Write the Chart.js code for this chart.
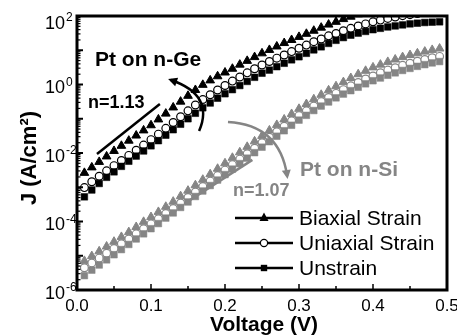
<!DOCTYPE html>
<html>
<head>
<meta charset="utf-8">
<script src="https://cdn.jsdelivr.net/npm/chart.js@4.4.1/dist/chart.umd.min.js"></script>
<style>
  html, body { margin: 0; padding: 0; background: #fff; }
  canvas { display: block; }
</style>
</head>
<body>
<canvas id="chart" width="457" height="335"></canvas>
<script>
// Bias voltage (V)
const voltage = [
  0.01, 0.02, 0.03, 0.04, 0.05, 0.06, 0.07, 0.08, 0.09, 0.10,
  0.11, 0.12, 0.13, 0.14, 0.15, 0.16, 0.17, 0.18, 0.19, 0.20,
  0.21, 0.22, 0.23, 0.24, 0.25, 0.26, 0.27, 0.28, 0.29, 0.30,
  0.31, 0.32, 0.33, 0.34, 0.35, 0.36, 0.37, 0.38, 0.39, 0.40,
  0.41, 0.42, 0.43, 0.44, 0.45, 0.46, 0.47, 0.48, 0.49
];

// log10 of current density J (A/cm2)
const geBiaxial = [
  -2.58, -2.42, -2.26, -2.10, -1.94, -1.79, -1.64, -1.49, -1.34, -1.19,
  -1.02, -0.85, -0.67, -0.50, -0.33, -0.16, -0.01, 0.12, 0.24, 0.35,
  0.46, 0.58, 0.69, 0.80, 0.91, 1.01, 1.11, 1.21, 1.30, 1.39,
  1.48, 1.57, 1.66, 1.75, 1.83, 1.91, 1.98, 2.05, 2.12, 2.18,
  2.24, 2.30, 2.35, 2.40, 2.45, 2.49, 2.53, 2.57, 2.61
];
const geUniaxial = [
  -3.01, -2.84, -2.68, -2.52, -2.37, -2.22, -2.07, -1.92, -1.77, -1.61,
  -1.45, -1.28, -1.11, -0.94, -0.77, -0.60, -0.44, -0.30, -0.16, -0.03,
  0.10, 0.22, 0.34, 0.46, 0.57, 0.67, 0.77, 0.86, 0.96, 1.06,
  1.15, 1.25, 1.33, 1.42, 1.49, 1.57, 1.64, 1.71, 1.77, 1.83,
  1.88, 1.93, 1.97, 2.01, 2.04, 2.07, 2.10, 2.12, 2.14
];
const geUnstrain = [
  -3.28, -3.08, -2.89, -2.71, -2.55, -2.39, -2.24, -2.09, -1.94, -1.79,
  -1.64, -1.48, -1.32, -1.16, -1.00, -0.84, -0.68, -0.54, -0.40, -0.27,
  -0.15, -0.03, 0.09, 0.21, 0.33, 0.42, 0.52, 0.62, 0.72, 0.81,
  0.91, 1.01, 1.10, 1.20, 1.29, 1.37, 1.44, 1.50, 1.55, 1.60,
  1.64, 1.68, 1.71, 1.74, 1.77, 1.79, 1.81, 1.82, 1.83
];
const siBiaxial = [
  -5.15, -5.01, -4.87, -4.73, -4.59, -4.45, -4.31, -4.16, -4.01, -3.87,
  -3.72, -3.57, -3.42, -3.26, -3.10, -2.94, -2.78, -2.62, -2.46, -2.30,
  -2.14, -1.98, -1.82, -1.66, -1.50, -1.34, -1.18, -1.02, -0.86, -0.71,
  -0.57, -0.43, -0.30, -0.17, -0.05, 0.07, 0.19, 0.30, 0.40, 0.50,
  0.58, 0.66, 0.73, 0.80, 0.86, 0.91, 0.96, 1.01, 1.05
];
const siUniaxial = [
  -5.35, -5.21, -5.07, -4.93, -4.79, -4.65, -4.51, -4.36, -4.21, -4.07,
  -3.92, -3.77, -3.62, -3.46, -3.30, -3.14, -2.98, -2.82, -2.66, -2.50,
  -2.34, -2.18, -2.02, -1.86, -1.70, -1.54, -1.38, -1.22, -1.06, -0.91,
  -0.77, -0.63, -0.50, -0.38, -0.26, -0.15, -0.04, 0.06, 0.16, 0.25,
  0.34, 0.42, 0.49, 0.56, 0.62, 0.68, 0.73, 0.78, 0.82
];
const siUnstrain = [
  -5.58, -5.42, -5.27, -5.12, -4.97, -4.82, -4.67, -4.51, -4.36, -4.21,
  -4.06, -3.90, -3.75, -3.59, -3.43, -3.27, -3.11, -2.95, -2.79, -2.63,
  -2.47, -2.31, -2.15, -1.99, -1.83, -1.67, -1.51, -1.35, -1.19, -1.04,
  -0.90, -0.76, -0.63, -0.51, -0.39, -0.28, -0.18, -0.08, 0.02, 0.11,
  0.19, 0.27, 0.34, 0.41, 0.47, 0.53, 0.58, 0.63, 0.67
];

// Axis ticks
const xTicks = [0, 0.1, 0.2, 0.3, 0.4, 0.5];
const xTickLabels = ['0.0', '0.1', '0.2', '0.3', '0.4', '0.5'];
const yTickExponents = [-6, -4, -2, 0, 2];

const legendLabels = ['Biaxial Strain', 'Uniaxial Strain', 'Unstrain'];

// Annotation guides in data units [V, J]
const geSlopeLine = [[0.027, 9.4e-3], [0.112, 0.27]];
const siSlopeLine = [[0.151, 4.0e-4], [0.237, 6.3e-3]];
const geArc = [[0.127, 1.35], [0.186, 0.49], [0.165, 0.044]];   // head at start
const siArc = [[0.204, 0.080], [0.274, 0.066], [0.284, 2.13e-3]]; // head at end

const BLACK = '#000000';
const GRAY = '#858585';
const FONT = "'Liberation Sans', Arial, sans-serif";

function toPoints(logs) {
  return voltage.map((v, i) => ({ x: v, y: Math.pow(10, logs[i]) }));
}

function series(label, logs, style, color, order) {
  const base = { label, data: toPoints(logs), order, clip: { left: 6, right: 6, top: 0, bottom: 6 } };
  if (style === 'triangle') {
    return Object.assign(base, { pointStyle: 'triangle', pointRadius: 5, backgroundColor: color, borderColor: color, borderWidth: 1 });
  }
  if (style === 'circle') {
    return Object.assign(base, { pointStyle: 'circle', pointRadius: 3.9, backgroundColor: '#ffffff', borderColor: color, borderWidth: 1.2 });
  }
  return Object.assign(base, { pointStyle: 'rect', pointRadius: 4.7, backgroundColor: color, borderColor: color, borderWidth: 0.5 });
}

function drawMarker(ctx, style, x, y) {
  ctx.save();
  ctx.fillStyle = BLACK;
  ctx.strokeStyle = BLACK;
  ctx.lineWidth = 1.2;
  ctx.beginPath();
  if (style === 'triangle') {
    ctx.moveTo(x, y - 5.5);
    ctx.lineTo(x + 4.5, y + 3);
    ctx.lineTo(x - 4.5, y + 3);
    ctx.closePath();
    ctx.fill();
  } else if (style === 'circle') {
    ctx.arc(x, y, 3.6, 0, Math.PI * 2);
    ctx.fillStyle = '#ffffff';
    ctx.fill();
    ctx.stroke();
  } else {
    ctx.rect(x - 3.2, y - 3.2, 6.4, 6.4);
    ctx.fill();
  }
  ctx.restore();
}

function arrowHead(ctx, tip, from, color) {
  const ang = Math.atan2(tip.y - from.y, tip.x - from.x);
  const len = 9, half = 4.5;
  const tx = tip.x + Math.cos(ang) * 3, ty = tip.y + Math.sin(ang) * 3;
  const bx = tx - Math.cos(ang) * len, by = ty - Math.sin(ang) * len;
  ctx.fillStyle = color;
  ctx.beginPath();
  ctx.moveTo(tx, ty);
  ctx.lineTo(bx + Math.sin(ang) * half, by - Math.cos(ang) * half);
  ctx.lineTo(bx - Math.sin(ang) * half, by + Math.cos(ang) * half);
  ctx.closePath();
  ctx.fill();
}

const decorations = {
  id: 'decorations',
  afterDatasetsDraw(chart) {
    const { ctx, chartArea: a, scales } = chart;
    const xs = scales.x, ys = scales.y;
    const px = p => ({ x: xs.getPixelForValue(p[0]), y: ys.getPixelForValue(p[1]) });

    ctx.save();
    ctx.lineCap = 'butt';

    // slope guide lines
    [[geSlopeLine, BLACK], [siSlopeLine, GRAY]].forEach(([ln, col]) => {
      const p0 = px(ln[0]), p1 = px(ln[1]);
      ctx.strokeStyle = col;
      ctx.lineWidth = 2.5;
      ctx.beginPath();
      ctx.moveTo(p0.x, p0.y);
      ctx.lineTo(p1.x, p1.y);
      ctx.stroke();
    });

    // curved arrows
    [[geArc, BLACK, 'start'], [siArc, GRAY, 'end']].forEach(([arc, col, headAt]) => {
      const p0 = px(arc[0]), c = px(arc[1]), p2 = px(arc[2]);
      ctx.strokeStyle = col;
      ctx.lineWidth = 2.5;
      ctx.beginPath();
      ctx.moveTo(p0.x, p0.y);
      ctx.quadraticCurveTo(c.x, c.y, p2.x, p2.y);
      ctx.stroke();
      if (headAt === 'start') arrowHead(ctx, p0, c, col);
      else arrowHead(ctx, p2, c, col);
    });

    // frame
    ctx.strokeStyle = BLACK;
    ctx.lineWidth = 3;
    ctx.strokeRect(a.left, a.top, a.right - a.left, a.bottom - a.top);

    // inward ticks, x axis
    ctx.lineWidth = 1.5;
    for (let i = 0; i <= 10; i++) {
      const x = xs.getPixelForValue(i * 0.05);
      const len = i % 2 === 0 ? 6 : 4;
      ctx.beginPath();
      ctx.moveTo(x, a.bottom);
      ctx.lineTo(x, a.bottom - len);
      ctx.stroke();
    }
    // inward ticks, y axis (decades and minors)
    for (let e = -6; e < 2; e++) {
      for (let m = 1; m <= 9; m++) {
        const y = ys.getPixelForValue(m * Math.pow(10, e));
        const len = m === 1 ? 6 : 3.5;
        ctx.lineWidth = m === 1 ? 2 : 1.2;
        ctx.beginPath();
        ctx.moveTo(a.left, y);
        ctx.lineTo(a.left + len, y);
        ctx.stroke();
      }
    }

    // tick labels
    ctx.fillStyle = BLACK;
    ctx.textBaseline = 'middle';
    ctx.textAlign = 'center';
    ctx.font = '17px ' + FONT;
    xTicks.forEach((v, i) => {
      ctx.fillText(xTickLabels[i], xs.getPixelForValue(v), a.bottom + 16);
    });
    ctx.textAlign = 'left';
    yTickExponents.forEach(e => {
      const y = ys.getPixelForValue(Math.pow(10, e));
      const yBase = Math.max(y + 4, a.top + 8);
      ctx.font = '18px ' + FONT;
      ctx.fillText('10', 45, yBase);
      const w = ctx.measureText('10').width;
      ctx.font = '12px ' + FONT;
      ctx.fillText(String(e), 45 + w + 1, yBase - 6);
    });

    // axis titles
    ctx.font = 'bold 21px ' + FONT;
    ctx.textAlign = 'center';
    ctx.fillText('Voltage (V)', (a.left + a.right) / 2 + 2, 325);
    ctx.save();
    ctx.translate(30, 158);
    ctx.rotate(-Math.PI / 2);
    ctx.font = 'bold 22px ' + FONT;
    ctx.fillText('J (A/cm\u00B2)', 0, 0);
    ctx.restore();

    // in-plot labels
    ctx.textAlign = 'left';
    ctx.font = 'bold 21px ' + FONT;
    ctx.fillStyle = BLACK;
    ctx.fillText('Pt on n-Ge', 95, 60);
    ctx.font = 'bold 18px ' + FONT;
    ctx.fillText('n=1.13', 88, 103);
    ctx.fillStyle = GRAY;
    ctx.font = 'bold 21px ' + FONT;
    ctx.fillText('Pt on n-Si', 300, 170);
    ctx.font = 'bold 18px ' + FONT;
    ctx.fillText('n=1.07', 233, 191);

    // legend
    const styles = ['triangle', 'circle', 'rect'];
    const rows = [218, 243, 268];
    legendLabels.forEach((lab, i) => {
      const y = rows[i];
      ctx.strokeStyle = BLACK;
      ctx.lineWidth = 2.5;
      ctx.beginPath();
      ctx.moveTo(235, y);
      ctx.lineTo(293, y);
      ctx.stroke();
      drawMarker(ctx, styles[i], 264, y);
      ctx.fillStyle = BLACK;
      ctx.font = '21px ' + FONT;
      ctx.fillText(lab, 299, y + 1);
    });

    ctx.restore();
  }
};

new Chart(document.getElementById('chart'), {
  type: 'scatter',
  data: {
    datasets: [
      series('Pt/n-Ge Biaxial Strain', geBiaxial, 'triangle', BLACK, 3),
      series('Pt/n-Ge Uniaxial Strain', geUniaxial, 'circle', BLACK, 2),
      series('Pt/n-Ge Unstrain', geUnstrain, 'rect', BLACK, 1),
      series('Pt/n-Si Biaxial Strain', siBiaxial, 'triangle', GRAY, 3),
      series('Pt/n-Si Uniaxial Strain', siUniaxial, 'circle', GRAY, 2),
      series('Pt/n-Si Unstrain', siUnstrain, 'rect', GRAY, 1)
    ]
  },
  options: {
    responsive: false,
    animation: false,
    layout: { padding: { top: 16, right: 10, left: 0, bottom: 0 } },
    plugins: { legend: { display: false }, tooltip: { enabled: false } },
    scales: {
      x: {
        type: 'linear', min: 0, max: 0.5,
        grid: { display: false }, border: { display: false },
        ticks: { display: false },
        afterFit: s => { s.height = 45; }
      },
      y: {
        type: 'logarithmic', min: 1e-6, max: 1e2,
        grid: { display: false }, border: { display: false },
        ticks: { display: false },
        afterFit: s => { s.width = 77; }
      }
    }
  },
  plugins: [decorations]
});
</script>
</body>
</html>
